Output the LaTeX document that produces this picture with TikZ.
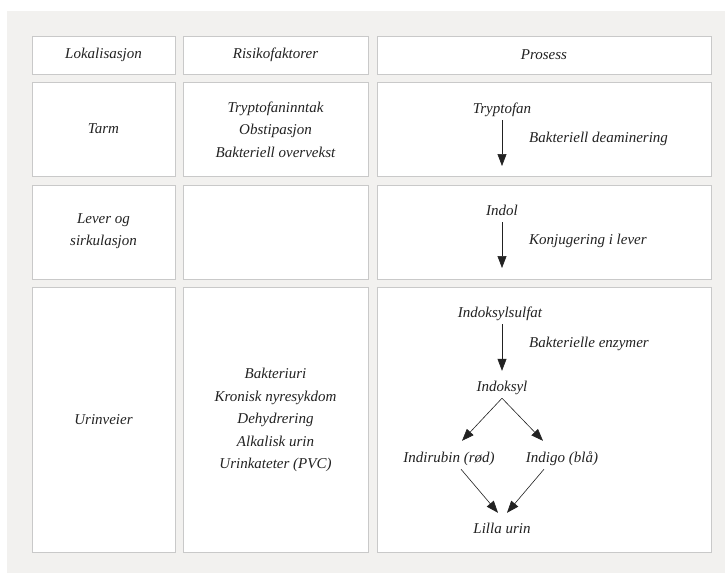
\documentclass[tikz,border=0pt]{standalone}
\usepackage{fontspec}
\setmainfont{Liberation Serif}
\usetikzlibrary{arrows.meta}
\definecolor{paper}{HTML}{F2F1EF}
\definecolor{cellline}{HTML}{C9C9C9}
\definecolor{ink}{HTML}{222222}

\begin{document}
\begin{tikzpicture}[x=1pt,y=-1pt,
                        cell/.style={draw=cellline,fill=white,line width=0.9},
                        txt/.style={font=\itshape\fontsize{15}{22.5}\selectfont,text=ink,align=center,inner sep=3pt},
                        step node/.style={txt,text height=11pt,text depth=4pt,anchor=base},
                        flow/.style={ink,line width=0.6,-{Triangle[length=12pt,width=9pt]}}
                        ]
                        \useasboundingbox (0,0) rectangle (725,574);
                        \fill[paper] (7,11) rectangle (725,573);
                        % draw table cells
                        \foreach \ya/\yb in {36/74,82/176,185/279,287/552}
                          \foreach \xa/\xb in {32/175,183/368,377/711}
                            \draw[cell] (\xa,\ya) rectangle (\xb,\yb);

                        \node[txt] (hloc) at (103.5,55) {Lokalisasjon};
                        \node[txt] (hrisk) at (275.5,55) {Risikofaktorer};
                        \node[txt] (hproc) at (544,55) {Prosess};

                        \node[txt] (tarm) at (103.5,129) {Tarm};
                        \node[txt] (tarmrisk) at (275.5,129.5) {Tryptofaninntak\\Obstipasjon\\Bakteriell overvekst};
                        \node[txt] (lever) at (103.5,231) {Lever og\\sirkulasjon};
                        \node[txt] (urin) at (103.5,420) {Urinveier};
                        \node[txt] (urinrisk) at (275.5,420) {Bakteriuri\\Kronisk nyresykdom\\Dehydrering\\Alkalisk urin\\Urinkateter (PVC)};

                        % process chain
                        \node[step node] (tryp) at (502,113) {Tryptofan};
                        \node[step node] (indol) at (502,215) {Indol};
                        \node[step node] (indsulf) at (500,317) {Indoksylsulfat};
                        \node[step node] (indoksyl) at (502,391) {Indoksyl};
                        \node[step node] (indirubin) at (449,462) {Indirubin (rød)};
                        \node[step node] (indigo) at (562,462) {Indigo (blå)};
                        \node[step node] (lilla) at (502,533) {Lilla urin};

                        \node[txt,anchor=base west,inner sep=0pt] (deam) at (529,142) {Bakteriell deaminering};
                        \node[txt,anchor=base west,inner sep=0pt] (konj) at (529,244) {Konjugering i lever};
                        \node[txt,anchor=base west,inner sep=0pt] (enz) at (529,347) {Bakterielle enzymer};

                        \coordinate (deamtip) at (502,166);
                        \coordinate (konjtip) at (502,268);
                        \draw[flow] (tryp.south) -- (deamtip);
                        \draw[flow] (indol.south) -- (konjtip);
                        \draw[flow,shorten >=6pt] (indsulf.south -| indoksyl) -- (indoksyl.north);

                        \draw[flow] (indoksyl.south) -- ([xshift=13pt,yshift=7pt]indirubin.north);
                        \draw[flow] (indoksyl.south) -- ([xshift=-19pt,yshift=7pt]indigo.north);
                        \draw[flow] ([xshift=12pt]indirubin.south) -- ([xshift=-4pt,yshift=6pt]lilla.north);
                        \draw[flow] ([xshift=-18pt]indigo.south) -- ([xshift=5pt,yshift=6pt]lilla.north);
                \end{tikzpicture}
\end{document}
